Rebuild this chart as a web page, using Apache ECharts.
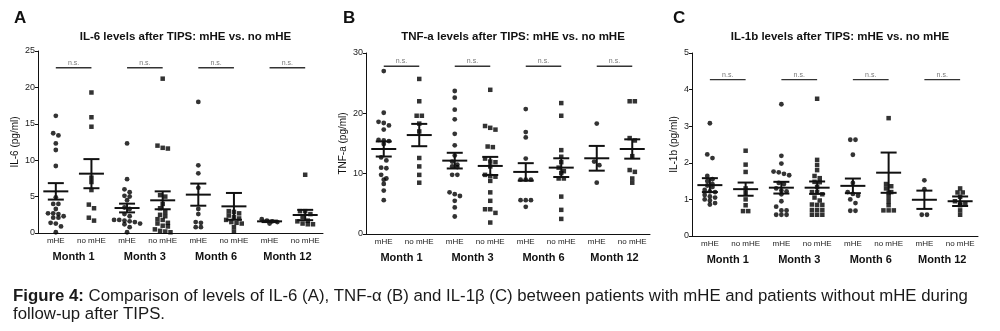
<!DOCTYPE html>
<html><head><meta charset="utf-8">
<script src="https://cdn.jsdelivr.net/npm/echarts@6/dist/echarts.min.js"></script>
<style>html,body{margin:0;padding:0;background:#fff}#c{width:1000px;height:331px}</style>
</head><body><div id="c"></div>
<script>
// ---------- categories / labels ----------
const groupLabels = ['mHE','no mHE','mHE','no mHE','mHE','no mHE','mHE','no mHE'];
const monthLabels = ['Month 1','Month 3','Month 6','Month 12'];

// ---------- IL-6 (pg/ml) ----------
const il6_mhe_m1 = [16.1,13.7,13.4,12.3,11.4,9.2,4.9,4.0,4.0,3.3,2.7,2.7,2.6,2.3,2.1,2.1,1.4,1.3,0.9,0.1];
const il6_no_m1  = [19.3,15.9,14.6,7.6,7.0,5.9,3.9,3.4,2.1,1.7];
const il6_mhe_m3 = [12.3,7.4,6.0,5.6,5.1,5.0,4.5,3.5,3.3,2.6,2.3,1.8,1.8,1.7,1.6,1.5,1.3,1.2,0.8,0.1];
const il6_no_m3  = [21.2,12.0,11.7,11.6,5.2,5.0,4.0,3.4,2.9,2.5,2.3,1.9,1.8,1.4,1.3,1.0,0.9,0.5,0.3,0.2,0.1];
const il6_mhe_m6 = [18.0,9.3,8.2,6.2,3.3,2.6,1.5,1.4,0.8,0.8];
const il6_no_m6  = [3.0,2.9,2.7,2.4,2.2,2.0,1.8,1.5,1.4,1.3,0.8,0.2];
const il6_mhe_m12 = [1.9,1.7,1.6,1.5,1.3];
const il6_no_m12  = [8.0,3.0,3.0,2.6,2.2,1.7,1.6,1.3,1.2,1.2];
const il6_mean = [5.72,8.15,3.43,4.49,5.27,3.66,1.6,2.47];
const il6_sem  = [1.13,2.0,0.6,1.23,1.52,1.84,0.1,0.71];

// ---------- TNF-a (pg/ml) ----------
const tnf_mhe_m1 = [27.0,20.1,18.6,18.4,18.0,17.3,15.6,15.5,15.4,14.9,12.7,12.2,11.0,10.9,9.8,9.2,9.0,8.3,7.2,5.6];
const tnf_no_m1  = [25.7,22.0,19.6,19.6,18.3,17.0,12.6,11.2,9.8,8.5];
const tnf_mhe_m3 = [23.7,22.6,20.6,19.0,16.6,14.7,13.0,12.0,11.5,11.2,11.1,9.8,9.8,6.9,6.6,6.3,5.5,4.4,2.9];
const tnf_no_m3  = [23.9,17.9,17.6,17.3,14.5,14.4,12.5,12.0,11.9,11.2,9.8,9.6,9.5,8.8,6.9,5.5,4.1,4.1,3.5,1.9];
const tnf_mhe_m6 = [20.7,16.9,16.0,12.5,9.0,9.0,9.0,5.6,5.6,5.6,4.5];
const tnf_no_m6  = [21.7,19.6,13.9,12.8,11.9,11.0,10.4,10.1,9.2,9.2,6.2,4.0,2.5];
const tnf_mhe_m12 = [18.3,12.0,11.4,8.5];
const tnf_no_m12  = [22.0,22.0,15.9,15.5,12.9,10.6,10.3,9.2,8.5];
const tnf_mean = [14.09,16.4,12.16,11.28,10.29,11.0,12.55,14.09];
const tnf_sem  = [1.25,1.85,1.3,1.5,1.45,1.55,2.05,1.6];

// ---------- IL-1b (pg/ml) ----------
const il1b_mhe_m1 = [3.08,2.23,2.13,1.64,1.55,1.50,1.42,1.38,1.34,1.26,1.22,1.20,1.12,1.08,1.05,1.00,0.97,0.90,0.86];
const il1b_no_m1  = [2.33,1.95,1.75,1.30,1.18,1.00,0.84,0.68,0.68];
const il1b_mhe_m3 = [3.60,2.19,1.98,1.76,1.74,1.70,1.66,1.45,1.42,1.30,1.24,1.22,1.14,0.95,0.80,0.70,0.70,0.58,0.58,0.58];
const il1b_no_m3  = [3.75,2.08,1.94,1.80,1.64,1.58,1.48,1.47,1.34,1.20,1.20,1.14,1.05,0.97,0.86,0.85,0.85,0.71,0.71,0.71,0.58,0.58,0.58];
const il1b_mhe_m6 = [2.63,2.63,2.22,1.45,1.20,1.15,1.10,1.00,0.90,0.69,0.69];
const il1b_no_m6  = [3.22,1.42,1.36,1.30,1.20,1.18,1.07,0.95,0.84,0.70,0.70,0.70];
const il1b_mhe_m12 = [1.52,1.28,0.58,0.58];
const il1b_no_m12  = [1.30,1.19,1.19,1.07,0.95,0.90,0.88,0.84,0.70,0.58];
const il1b_mean = [1.39,1.28,1.32,1.32,1.37,1.73,0.99,0.95];
const il1b_sem  = [0.19,0.18,0.16,0.17,0.2,0.55,0.25,0.13];

// ---------- n.s. bracket levels ----------
const nsLevels = [22.7, 27.8, 4.27];

// ---------- texts ----------
const panelTitles = ['IL-6 levels after TIPS: mHE vs. no mHE','TNF-a levels after TIPS: mHE vs. no mHE','IL-1b levels after TIPS: mHE vs. no mHE'];
const yNames = ['IL-6 (pg/ml)','TNF-a (pg/ml)','IL-1b (pg/ml)'];
const panelLetters = ['A','B','C'];

const FONT = '"Liberation Sans", Arial, sans-serif';
const INK = '#111';

const panels = [
  {groups:[il6_mhe_m1,il6_no_m1,il6_mhe_m3,il6_no_m3,il6_mhe_m6,il6_no_m6,il6_mhe_m12,il6_no_m12], mean:il6_mean, sem:il6_sem,
   yMax:25, yInt:5, grid:{left:38, top:51, width:285, height:182}, nameGap:18, letterX:14},
  {groups:[tnf_mhe_m1,tnf_no_m1,tnf_mhe_m3,tnf_no_m3,tnf_mhe_m6,tnf_no_m6,tnf_mhe_m12,tnf_no_m12], mean:tnf_mean, sem:tnf_sem,
   yMax:30, yInt:10, grid:{left:366, top:53, width:284, height:181}, nameGap:18, letterX:343},
  {groups:[il1b_mhe_m1,il1b_no_m1,il1b_mhe_m3,il1b_no_m3,il1b_mhe_m6,il1b_no_m6,il1b_mhe_m12,il1b_no_m12], mean:il1b_mean, sem:il1b_sem,
   yMax:5, yInt:1, grid:{left:692, top:53, width:286, height:183}, nameGap:13, letterX:673}
];

// simple row-based beeswarm layout (layout only; values come from arrays)
function swarm(vals, center, pxPerUnit, bandPx) {
  const step = 5.2, rowTol = 4;
  const sorted = vals.slice().sort((a,b)=>b-a);
  const rows = [];
  for (const v of sorted) {
    const last = rows[rows.length-1];
    if (last && (last[0]-v)*pxPerUnit < rowTol) last.push(v); else rows.push([v]);
  }
  const pts = [];
  rows.forEach(r => { const n = r.length; r.forEach((v,j)=>pts.push([center + (j-(n-1)/2)*step/bandPx, v])); });
  return pts;
}

const grid=[], xAxis=[], yAxis=[], series=[], title=[], graphic=[];
panels.forEach((p,k)=>{
  grid.push(p.grid);
  xAxis.push({type:'category', gridIndex:k, data:groupLabels, boundaryGap:true,
    axisLine:{lineStyle:{color:INK,width:1}}, axisTick:{alignWithLabel:true,length:3,lineStyle:{color:INK}},
    axisLabel:{fontFamily:FONT,fontSize:8,color:'#222',margin:4,interval:0}});
  xAxis.push({type:'category', gridIndex:k, data:monthLabels, boundaryGap:true, position:'bottom', offset:15,
    axisLine:{show:false}, axisTick:{show:false},
    axisLabel:{fontFamily:FONT,fontSize:11,fontWeight:'bold',color:INK,margin:3,interval:0}});
  xAxis.push({type:'value', gridIndex:k, min:0, max:8, show:false});
  yAxis.push({type:'value', gridIndex:k, min:0, max:p.yMax, interval:p.yInt,
    name:yNames[k], nameLocation:'middle', nameGap:p.nameGap, nameRotate:90,
    nameTextStyle:{fontFamily:FONT,fontSize:10,color:INK},
    axisLine:{show:true,lineStyle:{color:INK,width:1}}, axisTick:{show:true,length:3,lineStyle:{color:INK}},
    splitLine:{show:false}, axisLabel:{fontFamily:FONT,fontSize:9,color:'#222',margin:3}});
  const xi = 3*k+2;
  const pxPer = p.grid.height/p.yMax, bandPx = p.grid.width/8;
  const circ=[], sq=[];
  p.groups.forEach((g,i)=>{
    const pts = swarm(g, i+0.5, pxPer, bandPx);
    (i%2===0?circ:sq).push(...pts);
  });
  series.push({type:'scatter', xAxisIndex:xi, yAxisIndex:k, symbol:'circle', symbolSize:4.8, data:circ,
    itemStyle:{color:'#000'}, silent:true, z:2});
  series.push({type:'scatter', xAxisIndex:xi, yAxisIndex:k, symbol:'rect', symbolSize:4.5, data:sq,
    itemStyle:{color:'#000'}, silent:true, z:2});
  series.push({type:'custom', xAxisIndex:xi, yAxisIndex:k, z:3, silent:true,
    data:p.mean.map((m,i)=>[i, m, p.sem[i]]),
    renderItem:(params, api)=>{
      const x = api.value(0)+0.5, m = api.value(1), s = api.value(2);
      const c = api.coord([x,m]), t = api.coord([x,m+s]), b = api.coord([x,m-s]);
      const st = {stroke:INK, lineWidth:2};
      return {type:'group', children:[
        {type:'line', shape:{x1:c[0]-12.5,y1:c[1],x2:c[0]+12.5,y2:c[1]}, style:st},
        {type:'line', shape:{x1:c[0],y1:t[1],x2:c[0],y2:b[1]}, style:st},
        {type:'line', shape:{x1:c[0]-8,y1:t[1],x2:c[0]+8,y2:t[1]}, style:st},
        {type:'line', shape:{x1:c[0]-8,y1:b[1],x2:c[0]+8,y2:b[1]}, style:st}
      ]};
    }});
  series.push({type:'custom', xAxisIndex:xi, yAxisIndex:k, z:3, silent:true,
    data:[0,1,2,3].map(j=>[j, nsLevels[k]]),
    renderItem:(params, api)=>{
      const j = api.value(0), y = api.value(1);
      const a = api.coord([2*j+0.5, y]), b = api.coord([2*j+1.5, y]);
      return {type:'group', children:[
        {type:'line', shape:{x1:a[0],y1:a[1],x2:b[0],y2:b[1]}, style:{stroke:'#333',lineWidth:1.3}},
        {type:'text', x:(a[0]+b[0])/2, y:a[1]-1.5, style:{text:'n.s.', fontFamily:FONT, fontSize:7, fill:'#777', align:'center', verticalAlign:'bottom'}}
      ]};
    }});
  title.push({text:panelTitles[k], left:p.grid.left+p.grid.width/2, top:26, textAlign:'center',
    textStyle:{fontFamily:FONT,fontSize:11.5,fontWeight:'bold',color:INK}});
  graphic.push({type:'text', left:p.letterX, top:10, style:{text:panelLetters[k], fontFamily:FONT, fontSize:17, fontWeight:'bold', fill:INK}});
});

graphic.push({type:'text', left:13, top:287, style:{
  text:'{b|Figure 4:} Comparison of levels of IL-6 (A), TNF-α (B) and IL-1β (C) between patients with mHE and patients without mHE during\nfollow-up after TIPS.',
  fontFamily:FONT, fontSize:16.8, fill:'#1a1a1a', lineHeight:18,
  rich:{b:{fontFamily:FONT, fontSize:16.8, fontWeight:'bold', fill:'#1a1a1a', lineHeight:18}}
}});

const chart = echarts.init(document.getElementById('c'), null, {renderer:'canvas'});
chart.setOption({animation:false, backgroundColor:'#fff', title, grid, xAxis, yAxis, series, graphic});
</script>
</body></html>
